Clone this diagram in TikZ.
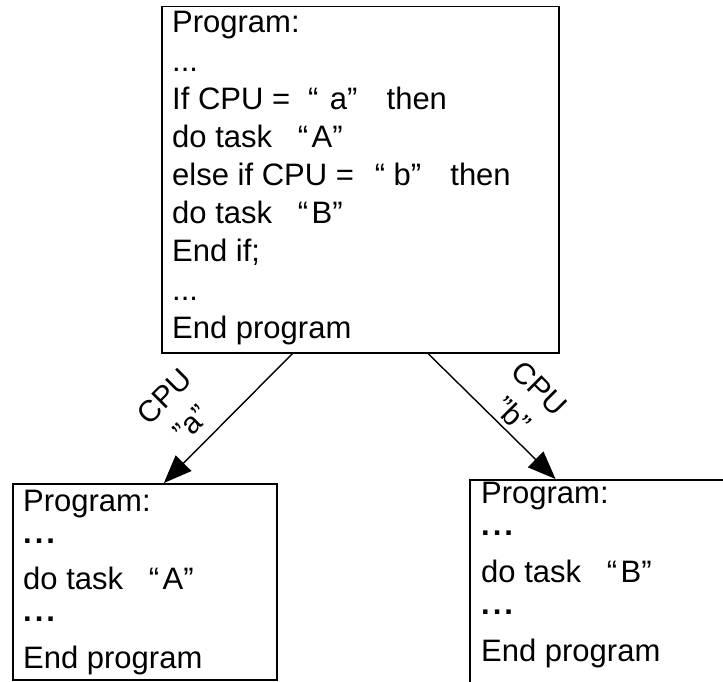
\documentclass[tikz,border=0pt]{standalone}
\usepackage{fontspec}
\setmainfont{Liberation Sans}
\usetikzlibrary{arrows.meta,calc}
% full-width style quotation marks: opening mark sits to the right of its box,
% closing mark to the left
\newcommand\qopen[1][0.55em]{\hbox to 1em{\hskip#1“\hss}}
\newcommand\qclose{\hbox to 1em{”\hss}}
% ellipses: plain one for the generic program, heavy one for the branches
\newcommand\tdots{...}
\newcommand\bdots{\raisebox{7pt}{\bfseries .\kern3pt.\kern3pt.}}
\begin{document}
\begin{tikzpicture}[x=1pt,y=-1pt,
  box/.style={draw, line width=1.5pt, inner sep=0pt, anchor=north west},
  codeline/.style={anchor=base west, inner sep=0pt, font=\fontsize{31}{37}\selectfont},
  conn/.style={line width=1.4pt, -{Triangle[length=28pt,width=22pt]}},
  cond/.style={align=center, inner sep=0pt, font=\fontsize{30}{38}\selectfont}]
\useasboundingbox (0,0) rectangle (723,682);
\clip (0,0) rectangle (723,682);

% program boxes
\node[box, minimum width=397pt, minimum height=346pt] (main) at (161,6) {};
\node[box, minimum width=264pt, minimum height=196pt] (caseA) at (12,483) {};
\node[box, minimum width=264pt, minimum height=215pt] (caseB) at (469,479) {};

% generic program
\foreach \ln [count=\k] in {{Program:},{\tdots},{If CPU = \qopen[0.3em]a\qclose{} then},
  {do task \qopen A\qclose},{else if CPU = \qopen[0.4em]b\qclose{} then},
  {do task \qopen B\qclose},{End if;},{\tdots},{End program}}
  \node[codeline] (m\k) at (172,{33+38.15*(\k-1)}) {\ln};

% program specialised for CPU a
\foreach \ln [count=\k] in {{Program:},{\bdots},{do task \qopen A\qclose},{\bdots},{End program}}
  \node[codeline] (a\k) at (23,{511+39.25*(\k-1)}) {\ln};

% program specialised for CPU b
\foreach \ln [count=\k] in {{Program:},{\bdots},{do task \qopen B\qclose},{\bdots},{End program}}
  \node[codeline] (b\k) at (481,{503+39.6*(\k-1)}) {\ln};

% specialisation arrows
\coordinate (fromA) at ($(main.south west)!0.33!(main.south east)$);
\coordinate (toA) at ($(caseA.north west)!0.572!(caseA.north east)$);
\coordinate (fromB) at ($(main.south west)!0.67!(main.south east)$);
\coordinate (toB) at ($(caseB.north west)!0.326!(caseB.north east)$);
\draw[conn] (fromA) -- (toA);
\draw[conn] (fromB) -- (toB);

\node[cond, rotate=45] (labA) at (178,410) {CPU\\”a”};
\node[cond, rotate=-45] (labB) at (526,402) {CPU\\”b”};
\end{tikzpicture}
\end{document}
